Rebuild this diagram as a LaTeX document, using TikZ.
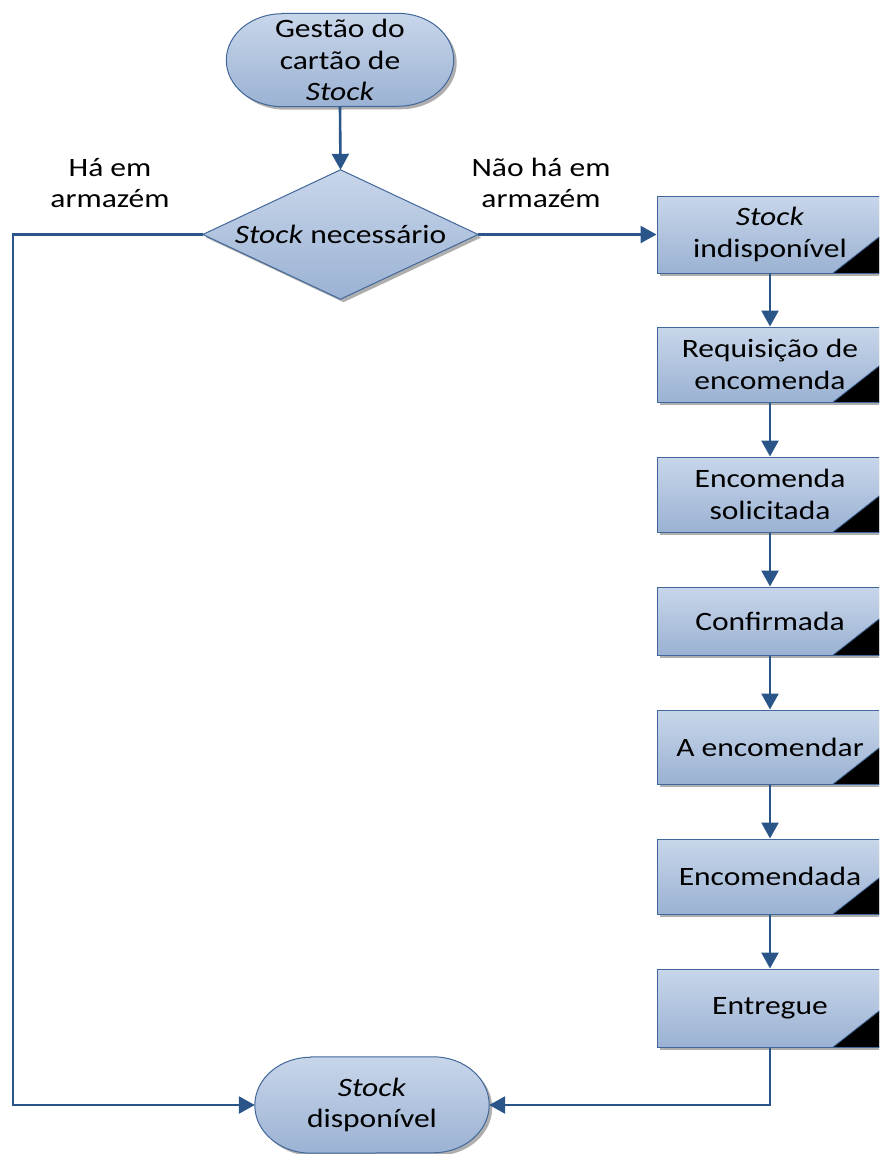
\documentclass[tikz,border=0pt]{standalone}
\usepackage{fontspec}
\setmainfont{Carlito}[FakeStretch=1.19]
\usetikzlibrary{arrows.meta,shadows,calc}
\pgfdeclarelayer{shapes}
\pgfsetlayers{shapes,main}
\definecolor{edgeblue}{HTML}{41679A}
\definecolor{lineblue}{HTML}{2A5588}
\definecolor{fillTop}{HTML}{C8D6EA}
\definecolor{fillBot}{HTML}{9BB2D3}
% stadium outline around a named node, with elliptic ends
\newcommand{\termshape}[3]{%
  \path[shaded] ($(#1.north west)+(#2,0)$) -- ($(#1.north east)+(-#2,0)$)
    arc[start angle=90,end angle=-90,x radius=#2pt,y radius=#3pt]
    -- ($(#1.south west)+(#2,0)$)
    arc[start angle=270,end angle=90,x radius=#2pt,y radius=#3pt] -- cycle;}
% dark corner wedge of a process box
\newcommand{\corner}[1]{%
  \fill[black,draw=edgeblue,line width=0.8pt] ($(#1.south east)+(-51,0)$) -- (#1.south east) -- ($(#1.south east)+(0,-40)$) -- cycle;}
\begin{document}
\begin{tikzpicture}[x=1pt,y=-1pt,
  every node/.style={font=\fontsize{26.5}{31.5}\selectfont,text=black,align=center,inner sep=0pt},
  shaded/.style={top color=fillTop,bottom color=fillBot,draw=edgeblue,line width=1pt,
    drop shadow={shadow xshift=3pt,shadow yshift=-3pt,fill=black!45,opacity=0.7}},
  anchorbox/.style={rectangle,draw=none},
  procbox/.style={shaded,rectangle,minimum width=226pt},
  flow/.style={draw=lineblue,line width=2.6pt,-{Triangle[length=16pt,width=17pt]}},
  link/.style={draw=lineblue,line width=2.6pt}
]
\useasboundingbox (0,0) rectangle (879,1154);
\clip (0,0) rectangle (879,1154);

% start, decision and end
\node[anchorbox,minimum width=227pt,minimum height=93pt] (start) at (340,60)
  {Gestão do\\cartão de\\\textit{Stock}};
\node[anchorbox,minimum width=275pt,minimum height=129pt] (dec) at (340.5,234.5)
  {\textit{Stock} necessário};
\node[anchorbox,minimum width=234pt,minimum height=96pt] (done) at (372,1105)
  {\textit{Stock}\\disponível};

\begin{pgfonlayer}{shapes}
  \termshape{start}{56}{46.5}
  \termshape{done}{56}{48}
  \path[shaded] (dec.north) -- (dec.east) -- (dec.south) -- (dec.west) -- cycle;
\end{pgfonlayer}

% process chain
\node[procbox,minimum height=77pt] (p1) at (770,234.5) {\textit{Stock}\\indisponível};
\node[procbox,minimum height=75pt] (p2) at (770,364.5) {Requisição de\\encomenda};
\node[procbox,minimum height=75pt] (p3) at (770,494.5) {Encomenda\\solicitada};
\node[procbox,minimum height=68pt] (p4) at (770,621) {Confirmada};
\node[procbox,minimum height=74pt] (p5) at (770,747) {A encomendar};
\node[procbox,minimum height=75pt] (p6) at (770,876.5) {Encomendada};
\node[procbox,minimum height=78pt] (p7) at (770,1008) {Entregue};
\foreach \b in {p1,p2,p3,p4,p5,p6,p7} {\corner{\b}}

% branch labels
\node (yes) at (110,183) {Há em\\armazém};
\node (no) at (541,183) {Não há em\\armazém};

% connectors
\coordinate (left) at (13,234.5);
\draw[flow] (start.south) -- (dec.north);
\draw[flow] (dec.east) -- (p1.west);
\draw[flow] (dec.west) -- (left) |- (done.west);
\draw[flow] (p1.south) -- (p2.north);
\draw[flow] (p2.south) -- (p3.north);
\draw[flow] (p3.south) -- (p4.north);
\draw[flow] (p4.south) -- (p5.north);
\draw[flow] (p5.south) -- (p6.north);
\draw[flow] (p6.south) -- (p7.north);
\draw[flow] (p7.south) |- (done.east);
\end{tikzpicture}
\end{document}
